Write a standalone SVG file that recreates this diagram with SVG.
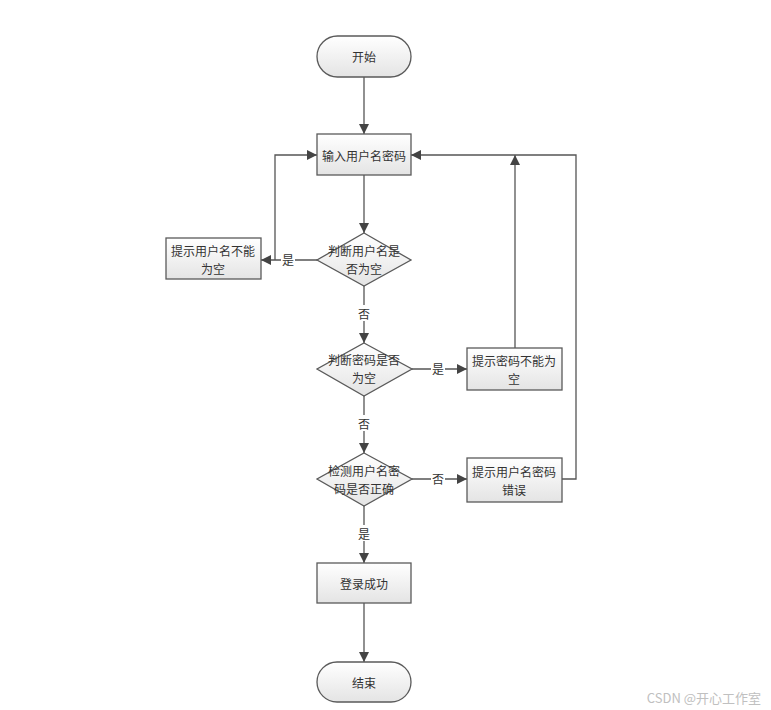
<svg xmlns="http://www.w3.org/2000/svg" width="771" height="710" viewBox="0 0 771 710">
<style>
.n{fill:url(#g);stroke:#5a5a5a;stroke-width:1.3}
.t{font-family:"Noto Sans CJK SC","Noto Sans",sans-serif;font-size:12px;fill:#333;text-anchor:middle;dominant-baseline:central}
.c{fill:none;stroke:#555;stroke-width:1.3}
.lb{fill:#fff}
</style>
<defs>
<linearGradient id="g" x1="0" y1="0" x2="0" y2="1">
<stop offset="0" stop-color="#ffffff"/>
<stop offset="1" stop-color="#e4e4e4"/>
</linearGradient>
<marker id="a" viewBox="0 0 10 10" refX="10" refY="5" markerWidth="10" markerHeight="10" markerUnits="userSpaceOnUse" orient="auto">
<path d="M0,0 L10,5 L0,10 z" fill="#444"/>
</marker>
</defs>
<rect width="771" height="710" fill="#fff"/>
<g id="connectors">
<path class="c" d="M364,77 V134" marker-end="url(#a)"/>
<path class="c" d="M364,175 V233" marker-end="url(#a)"/>
<path class="c" d="M317,260 H261" marker-end="url(#a)"/>
<path class="c" d="M275,260 V155 H317" marker-end="url(#a)"/>
<path class="c" d="M364,286 V343" marker-end="url(#a)"/>
<path class="c" d="M412,369 H467" marker-end="url(#a)"/>
<path class="c" d="M515,348 V155" marker-end="url(#a)"/>
<path class="c" d="M364,396 V453" marker-end="url(#a)"/>
<path class="c" d="M412,479 H467" marker-end="url(#a)"/>
<path class="c" d="M562,479 H576 V155 H411" marker-end="url(#a)"/>
<path class="c" d="M364,506 V563" marker-end="url(#a)"/>
<path class="c" d="M364,603 V662" marker-end="url(#a)"/>
<rect class="lb" x="281" y="252" width="14" height="16"/>
<text class="t" x="288" y="259">是</text>
<rect class="lb" x="357" y="305" width="14" height="16"/>
<text class="t" x="364" y="313">否</text>
<rect class="lb" x="431" y="361" width="14" height="16"/>
<text class="t" x="438" y="368">是</text>
<rect class="lb" x="357" y="415" width="14" height="16"/>
<text class="t" x="364" y="423">否</text>
<rect class="lb" x="431" y="471" width="14" height="16"/>
<text class="t" x="438" y="478">否</text>
<rect class="lb" x="357" y="525" width="14" height="16"/>
<text class="t" x="364" y="533">是</text>
</g>
<g id="start">
<rect class="n" x="317" y="36" width="94" height="41" rx="20.5"/>
<text class="t" x="364" y="56">开始</text>
</g>
<g id="input">
<rect class="n" x="317" y="134" width="94" height="41"/>
<text class="t" x="364" y="155">输入用户名密码</text>
</g>
<g id="check-user">
<polygon class="n" points="364,233 411,260 364,286 317,260"/>
<text class="t" x="364" y="250">判断用户名是</text>
<text class="t" x="364" y="268">否为空</text>
</g>
<g id="user-empty">
<rect class="n" x="166" y="238" width="95" height="41"/>
<text class="t" x="213" y="250">提示用户名不能</text>
<text class="t" x="213" y="268">为空</text>
</g>
<g id="check-pwd">
<polygon class="n" points="364,343 412,369 364,396 317,369"/>
<text class="t" x="364" y="359">判断密码是否</text>
<text class="t" x="364" y="377">为空</text>
</g>
<g id="pwd-empty">
<rect class="n" x="467" y="348" width="95" height="42"/>
<text class="t" x="514" y="360">提示密码不能为</text>
<text class="t" x="514" y="378">空</text>
</g>
<g id="check-correct">
<polygon class="n" points="364,453 412,479 364,506 317,479"/>
<text class="t" x="364" y="470">检测用户名密</text>
<text class="t" x="364" y="488">码是否正确</text>
</g>
<g id="wrong">
<rect class="n" x="467" y="458" width="95" height="44"/>
<text class="t" x="514" y="471">提示用户名密码</text>
<text class="t" x="514" y="489">错误</text>
</g>
<g id="success">
<rect class="n" x="317" y="563" width="94" height="40"/>
<text class="t" x="364" y="583">登录成功</text>
</g>
<g id="end">
<rect class="n" x="317" y="662" width="94" height="40" rx="20"/>
<text class="t" x="364" y="682">结束</text>
</g>
<text x="761" y="697" font-family="'Noto Sans CJK SC','Noto Sans',sans-serif" font-size="13" fill="#c0c0c0" text-anchor="end" dominant-baseline="central">CSDN @开心工作室</text>
</svg>
